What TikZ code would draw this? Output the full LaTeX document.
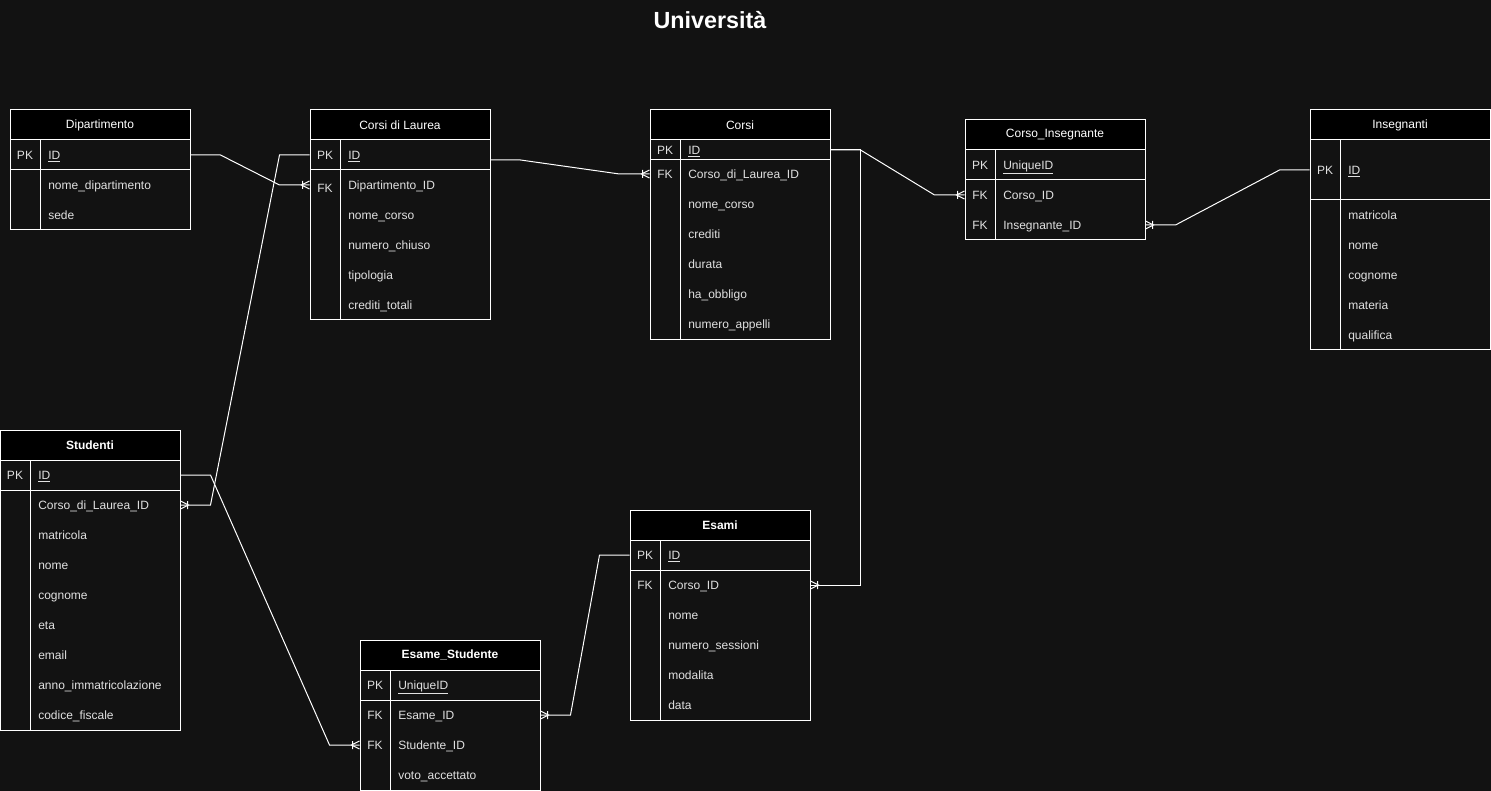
\documentclass[tikz,border=0pt]{standalone}
\usepackage{fontspec}
\setmainfont{Liberation Sans}
\usetikzlibrary{positioning, calc}
\definecolor{bg}{RGB}{18,18,18}
\definecolor{fieldtext}{RGB}{225,225,225}
\tikzstyle{header} = [draw=white, fill=black, text=white, font=\fontsize{9}{11}\selectfont, minimum width=135pt, minimum height=22.5pt, inner sep=0pt, line width=0.75pt]
\tikzstyle{headerbold} = [header, font=\bfseries\fontsize{9}{11}\selectfont]
\tikzstyle{tableline} = [draw=white, line width=0.75pt]
\tikzstyle{field} = [anchor=west, text=fieldtext, font=\fontsize{9}{11}\selectfont, inner sep=0pt, text height=8pt, text depth=1.8pt]
\tikzstyle{keylabel} = [field, anchor=center]
\tikzstyle{conn} = [draw=white, line width=0.75pt]
\tikzset{many/.pic={\draw[conn] (0,-4) -- (8,0) -- (0,4) (7,-4) -- (7,4);}}

\begin{document}
\begin{tikzpicture}[x=0.75pt, y=-0.75pt]
    \useasboundingbox[fill=bg] (0,0) rectangle (1491,791);
    \node[font=\bfseries\fontsize{17.5}{21}\selectfont, text=white] (title) at (710,20) {Università};

    % Dipartimento
    \node[header] (dip) at (100,125) {Dipartimento};
    \draw[tableline] (10,140) rectangle (190,230) (10,170) -- (190,170) (40,140) -- (40,230);
    \node[keylabel] at (25,155) {PK};
    \node[field] (dip-id) at (48,155) {\underline{ID}};
    \foreach \y/\f in {185/nome\_dipartimento, 215/sede}
        \node[field] at (48,\y) {\f};

    % Corsi di Laurea
    \node[header] (cdl) at (400,125) {Corsi di Laurea};
    \draw[tableline] (310,140) rectangle (490,320) (310,170) -- (490,170) (340,140) -- (340,320);
    \node[keylabel] at (325,155) {PK};
    \node[keylabel] at (325,188) {FK};
    \node[field] (cdl-id) at (348,155) {\underline{ID}};
    \node[field] (cdl-dip) at (348,185) {Dipartimento\_ID};
    \foreach \y/\f in {215/nome\_corso, 245/numero\_chiuso, 275/tipologia, 305/crediti\_totali}
        \node[field] at (348,\y) {\f};

    % Corsi
    \node[header] (cor) at (740,125) {Corsi};
    \draw[tableline] (650,140) rectangle (830,340) (650,160) -- (830,160) (680,140) -- (680,340);
    \node[keylabel] at (665,150) {PK};
    \node[keylabel] at (665,174) {FK};
    \node[field] (cor-id) at (688,150) {\underline{ID}};
    \node[field] (cor-cdl) at (688,174) {Corso\_di\_Laurea\_ID};
    \foreach \y/\f in {204/nome\_corso, 234/crediti, 264/durata, 294/ha\_obbligo, 324/numero\_appelli}
        \node[field] at (688,\y) {\f};

    % Corso_Insegnante
    \node[header] (ci) at (1055,135) {Corso\_Insegnante};
    \draw[tableline] (965,150) rectangle (1145,240) (965,180) -- (1145,180) (995,150) -- (995,240);
    \node[keylabel] at (980,165) {PK};
    \node[keylabel] at (980,195) {FK};
    \node[keylabel] at (980,225) {FK};
    \node[field] at (1003,165) {\underline{UniqueID}};
    \node[field] (ci-cor) at (1003,195) {Corso\_ID};
    \node[field] (ci-ins) at (1003,225) {Insegnante\_ID};

    % Insegnanti
    \node[header] (ins) at (1400,125) {Insegnanti};
    \draw[tableline] (1310,140) rectangle (1490,350) (1310,200) -- (1490,200) (1340,140) -- (1340,350);
    \node[keylabel] at (1325,170) {PK};
    \node[field] (ins-id) at (1348,170) {\underline{ID}};
    \foreach \y/\f in {215/matricola, 245/nome, 275/cognome, 305/materia, 335/qualifica}
        \node[field] at (1348,\y) {\f};

    % Studenti
    \node[headerbold] (stu) at (90,445) {Studenti};
    \draw[tableline] (0,460) rectangle (180,730) (0,490) -- (180,490) (30,460) -- (30,730);
    \node[keylabel] at (15,475) {PK};
    \node[field] (stu-id) at (38,475) {\underline{ID}};
    \node[field] (stu-cdl) at (38,505) {Corso\_di\_Laurea\_ID};
    \foreach \y/\f in {535/matricola, 565/nome, 595/cognome, 625/eta, 655/email, 685/anno\_immatricolazione, 715/codice\_fiscale}
        \node[field] at (38,\y) {\f};

    % Esame_Studente
    \node[headerbold] (es) at (450,655) {Esame\_Studente};
    \draw[tableline] (360,670) rectangle (540,790) (360,700) -- (540,700) (390,670) -- (390,790);
    \node[keylabel] at (375,685) {PK};
    \node[keylabel] at (375,715) {FK};
    \node[keylabel] at (375,745) {FK};
    \node[field] at (398,685) {\underline{UniqueID}};
    \node[field] (es-esa) at (398,715) {Esame\_ID};
    \node[field] (es-stu) at (398,745) {Studente\_ID};
    \node[field] at (398,775) {voto\_accettato};

    % Esami
    \node[headerbold] (esa) at (720,525) {Esami};
    \draw[tableline] (630,540) rectangle (810,720) (630,570) -- (810,570) (660,540) -- (660,720);
    \node[keylabel] at (645,555) {PK};
    \node[keylabel] at (645,585) {FK};
    \node[field] (esa-id) at (668,555) {\underline{ID}};
    \node[field] (esa-cor) at (668,585) {Corso\_ID};
    \foreach \y/\f in {615/nome, 645/numero\_sessioni, 675/modalita, 705/data}
        \node[field] at (668,\y) {\f};

    % relazioni
    \draw[conn] (dip-id -| dip.east) -- ++(30,0) -- ($(cdl-dip -| cdl.west)+(-30,0)$) -- (cdl-dip -| cdl.west);
    \draw[conn] ($(cdl-id -| cdl.east)+(0,5)$) -- ++(30,0) -- ($(cor-cdl -| cor.west)+(-30,0)$) -- (cor-cdl -| cor.west);
    \draw[conn] (cor-id -| cor.east) -- ++(30,0) -- ($(ci-cor -| ci.west)+(-30,0)$) -- (ci-cor -| ci.west);
    \draw[conn] (cor-id -| cor.east) -- ++(30,0) |- (esa-cor -| esa.east);
    \draw[conn] (ins-id -| ins.west) -- ++(-30,0) -- ($(ci-ins -| ci.east)+(30,0)$) -- (ci-ins -| ci.east);
    \draw[conn] (cdl-id -| cdl.west) -- ++(-30,0) -- ($(stu-cdl -| stu.east)+(30,0)$) -- (stu-cdl -| stu.east);
    \draw[conn] (stu-id -| stu.east) -- ++(30,0) -- ($(es-stu -| es.west)+(-30,0)$) -- (es-stu -| es.west);
    \draw[conn] (esa-id -| esa.west) -- ++(-30,0) -- ($(es-esa -| es.east)+(30,0)$) -- (es-esa -| es.east);

    % crow's feet
    \pic[rotate=180] at (cdl-dip -| cdl.west) {many};
    \pic[rotate=180] at (cor-cdl -| cor.west) {many};
    \pic[rotate=180] at (ci-cor -| ci.west) {many};
    \pic[rotate=180] at (es-stu -| es.west) {many};
    \pic at (esa-cor -| esa.east) {many};
    \pic at (ci-ins -| ci.east) {many};
    \pic at (stu-cdl -| stu.east) {many};
    \pic at (es-esa -| es.east) {many};
\end{tikzpicture}
\end{document}
